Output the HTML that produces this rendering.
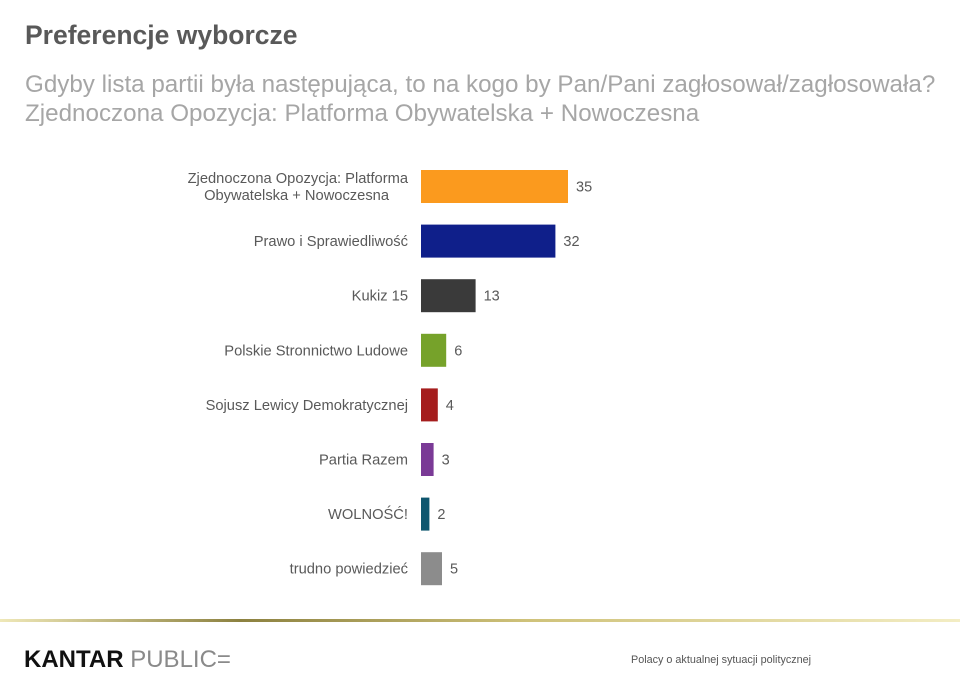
<!DOCTYPE html>
<html><head><meta charset="utf-8"><style>
body{margin:0;width:960px;height:696px;background:#fff;font-family:"Liberation Sans",sans-serif;overflow:hidden;position:relative}
.t{position:absolute;left:25px;top:20px;font-size:26.5px;font-weight:bold;color:#595959}
.s{position:absolute;left:25px;top:70px;font-size:24.2px;color:#a6a6a6;line-height:29px}
.rule{position:absolute;left:0;top:619px;width:960px;height:3px;background:linear-gradient(90deg,#efe8b8,#8c8140 25%,#cfc27a 55%,#f3edc4)}
.logo{position:absolute;left:24px;top:646px;font-size:24px;color:#111}
.logo b{font-weight:bold}.logo span{color:#8a8a8a;font-weight:normal}
.foot{position:absolute;left:631px;top:654px;font-size:10.8px;color:#555}
</style></head><body>
<div class="t">Preferencje wyborcze</div>
<div class="s">Gdyby lista partii była następująca, to na kogo by Pan/Pani zagłosował/zagłosowała?<br>Zjednoczona Opozycja: Platforma Obywatelska + Nowoczesna</div>
<svg id="c" width="960" height="696" style="position:absolute;left:0;top:0"></svg>
<div class="rule"></div>
<div class="logo"><b>KANTAR</b> <span>PUBLIC=</span></div>
<div class="foot">Polacy o aktualnej sytuacji politycznej</div>
<script>
const categories=[["Zjednoczona Opozycja: Platforma","Obywatelska + Nowoczesna"],["Prawo i Sprawiedliwość"],["Kukiz 15"],["Polskie Stronnictwo Ludowe"],["Sojusz Lewicy Demokratycznej"],["Partia Razem"],["WOLNOŚĆ!"],["trudno powiedzieć"]];
const values=[35,32,13,6,4,3,2,5];
const colors=["#fb9a1e","#0f1f8a","#3a3a3a","#76a22a","#a51d1d","#7a3a96","#0e566e","#8c8c8c"];
const NS="http://www.w3.org/2000/svg",svg=document.getElementById('c');
const x0=421,k=4.2,yTop=170,step=54.6,bh=33;
const xs=v=>x0+v*k, ys=i=>yTop+i*step;
values.forEach((v,i)=>{
 const r=document.createElementNS(NS,'rect');
 r.setAttribute('x',x0);r.setAttribute('y',ys(i));r.setAttribute('width',xs(v)-x0);r.setAttribute('height',bh);r.setAttribute('fill',colors[i]);
 
 
 svg.appendChild(r);
 const t=document.createElementNS(NS,'text');
 t.setAttribute('x',xs(v)+8);t.setAttribute('y',ys(i)+bh/2+5);t.setAttribute('font-size','14.5');t.setAttribute('fill','#595959');t.textContent=v;
 
 
 svg.appendChild(t);
 const l=document.createElementNS(NS,'text');
 l.setAttribute('text-anchor','end');l.setAttribute('font-size','14.7');l.setAttribute('fill','#595959');
 
 
 const lines=categories[i],n=lines.length;
 lines.forEach((s,j)=>{const ts=document.createElementNS(NS,'tspan');
  ts.setAttribute('x',n>1&&j==1?389:408);ts.setAttribute('y',ys(i)+bh/2+5+(j-(n-1)/2)*17);ts.textContent=s;l.appendChild(ts);});
 svg.appendChild(l);
});
</script>
</body></html>
